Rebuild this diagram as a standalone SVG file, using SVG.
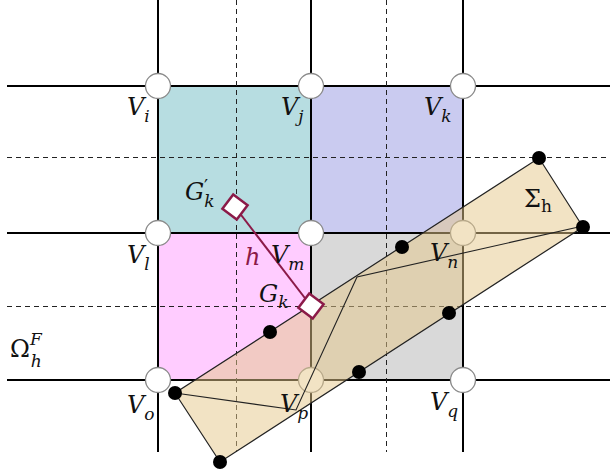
<svg xmlns="http://www.w3.org/2000/svg" width="610" height="472" viewBox="0 0 610 472">
<style>
.solid{stroke:#000;stroke-width:2;fill:none}
.dash{stroke:#222;stroke-width:1;stroke-dasharray:5 4;fill:none}
.vtx{fill:#fff;stroke:#8a8a8a;stroke-width:1.3}
.dot{fill:#000}
.lbl{font-family:"DejaVu Serif","Liberation Serif",serif;font-style:italic;font-size:24px;fill:#111}
.sub{font-size:17px}
.up{font-style:normal}
.gsq{fill:#fff;stroke:#8b1a48;stroke-width:2.5}
</style>
<rect width="610" height="472" fill="#fff"/>
<g id="cells">
<rect id="cell-ij" x="158" y="86" width="153" height="147" fill="#b7dde1"/>
<rect id="cell-jk" x="311" y="86" width="152" height="147" fill="#cacbf0"/>
<rect id="cell-lm" x="158" y="233" width="153" height="147" fill="#ffccff"/>
<rect id="cell-mn" x="311" y="233" width="152" height="147" fill="#d9d9d9"/>
</g>
<g id="connectors">
<line class="solid" x1="158" y1="0" x2="158" y2="452"/>
<line class="solid" x1="311" y1="0" x2="311" y2="452"/>
<line class="solid" x1="463" y1="0" x2="463" y2="452"/>
<line class="solid" x1="7" y1="86" x2="610" y2="86"/>
<line class="solid" x1="7" y1="233" x2="610" y2="233"/>
<line class="solid" x1="7" y1="380" x2="610" y2="380"/>
<line class="dash" x1="236.5" y1="0" x2="236.5" y2="452"/>
<line class="dash" x1="386.5" y1="0" x2="386.5" y2="452"/>
<line class="dash" x1="7" y1="157.5" x2="610" y2="157.5"/>
<line class="dash" x1="7" y1="306.5" x2="610" y2="306.5"/>
</g>
<g id="vertices">
<circle class="vtx" cx="158" cy="86" r="12.5"/>
<circle class="vtx" cx="311" cy="86" r="12.5"/>
<circle class="vtx" cx="463" cy="86" r="12.5"/>
<circle class="vtx" cx="158" cy="233" r="12.5"/>
<circle class="vtx" cx="311" cy="233" r="12.5"/>
<circle class="vtx" cx="463" cy="233" r="12.5"/>
<circle class="vtx" cx="158" cy="380" r="12.5"/>
<circle class="vtx" cx="311" cy="380" r="12.5"/>
<circle class="vtx" cx="463" cy="380" r="12.5"/>
</g>
<g id="sigma-h">
<polygon points="539,158 583,227 220,462 175,393" fill="#e6c88a" fill-opacity="0.5" stroke="#222" stroke-width="1.2"/>
<polyline points="175,393 296,410 357,277 583,226" fill="none" stroke="#222" stroke-width="1.1"/>
<circle class="dot" cx="539" cy="158" r="7"/>
<circle class="dot" cx="583" cy="227" r="7"/>
<circle class="dot" cx="175" cy="393" r="7"/>
<circle class="dot" cx="220" cy="462" r="7"/>
<circle class="dot" cx="402" cy="247" r="7"/>
<circle class="dot" cx="449" cy="313" r="7"/>
<circle class="dot" cx="359" cy="372" r="7"/>
<circle class="dot" cx="270" cy="332" r="7"/>
</g>
<g id="h-edge">
<line x1="235" y1="207" x2="311" y2="306" stroke="#8b1a48" stroke-width="2"/>
</g>
<g id="G-k-prime">
<rect class="gsq" x="-9" y="-9" width="18" height="18" transform="translate(235,207) rotate(37)"/>
</g>
<g id="G-k">
<rect class="gsq" x="-9" y="-9" width="18" height="18" transform="translate(311,306) rotate(37)"/>
</g>
<g id="labels">
<text class="lbl" x="127" y="115">V<tspan class="sub" dy="7">i</tspan></text>
<text class="lbl" x="281" y="115">V<tspan class="sub" dy="7">j</tspan></text>
<text class="lbl" x="424" y="115">V<tspan class="sub" dy="7">k</tspan></text>
<text class="lbl" x="127" y="263">V<tspan class="sub" dy="7">l</tspan></text>
<text class="lbl" x="271" y="263">V<tspan class="sub" dy="7">m</tspan></text>
<text class="lbl" x="430" y="261">V<tspan class="sub" dy="7">n</tspan></text>
<text class="lbl" x="127" y="413">V<tspan class="sub" dy="7">o</tspan></text>
<text class="lbl" x="280" y="412">V<tspan class="sub" dy="7">p</tspan></text>
<text class="lbl" x="430" y="410">V<tspan class="sub" dy="7">q</tspan></text>
<text class="lbl" x="185" y="200">G<tspan class="sub" dy="7">k</tspan></text>
<text class="lbl up" x="204" y="193" style="font-size:18px">′</text>
<text class="lbl" x="259" y="302">G<tspan class="sub" dy="6">k</tspan></text>
<text class="lbl" x="245" y="265" style="fill:#8b1a48">h</text>
<text class="lbl up" x="524" y="207">Σ<tspan class="sub" dy="5">h</tspan></text>
<text class="lbl up" x="10" y="357">Ω<tspan class="sub" style="font-style:italic" dy="-12">F</tspan><tspan class="sub" style="font-style:italic" dx="-11" dy="22">h</tspan></text>
</g>
</svg>
